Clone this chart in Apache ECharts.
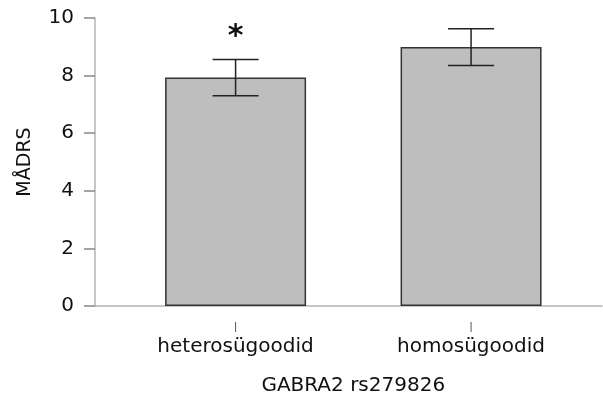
<!DOCTYPE html>
<html>
<head>
<meta charset="utf-8">
<script src="https://cdn.jsdelivr.net/npm/echarts@6/dist/echarts.min.js"></script>
<style>
  html, body { margin: 0; padding: 0; background: #fff; }
  #chart { width: 603px; height: 401px; }
</style>
</head>
<body>
<div id="chart"></div>
<script>
// andmed
const categories = ['heteros\u00fcgoodid', 'homos\u00fcgoodid']
const positions = [1, 2]
const means = [7.93, 8.99]
const errLow = [7.30, 8.35]
const errHigh = [8.56, 9.63]
const signif = ['*', '']
const yTicks = [0, 2, 4, 6, 8, 10]

const FONT = 'DejaVu Sans'
const chart = echarts.init(document.getElementById('chart'))

const xMin = 0.403
const xMax = 2.556

chart.setOption({
  animation: false,
  grid: [
    { left: 95, right: 1, top: 18, bottom: 95 },
    // kategooriate telg (eraldi, et sildid oleksid tulpade keskel)
    { left: 117.75, right: 14.25, top: 18, bottom: 95 }
  ],
  xAxis: [
    {
      type: 'value',
      gridIndex: 0,
      min: xMin,
      max: xMax,
      axisLine: { show: true, lineStyle: { color: '#b4b4b4', width: 1.5 } },
      axisTick: { show: false },
      axisLabel: { show: false },
      splitLine: { show: false }
    },
    {
      type: 'category',
      gridIndex: 1,
      data: categories,
      position: 'bottom',
      offset: 16,
      axisLine: { show: false },
      axisTick: { show: false },
      axisLabel: { show: true, margin: 32, fontFamily: FONT, fontSize: 20, color: '#111' },
      splitLine: { show: false },
      name: 'GABRA2 rs279826',
      nameLocation: 'middle',
      nameGap: 71,
      nameTextStyle: { fontFamily: FONT, fontSize: 20, color: '#111' }
    }
  ],
  yAxis: [
    {
      type: 'value',
      gridIndex: 0,
      min: 0,
      max: 10,
      interval: 2,
      axisLine: { show: true, lineStyle: { color: '#b4b4b4', width: 1.5 } },
      axisTick: { show: true, length: 11, lineStyle: { color: '#888', width: 1.5 } },
      axisLabel: { fontFamily: FONT, fontSize: 20, color: '#111', margin: 21,
        formatter: v => yTicks.includes(v) ? String(v) : '' },
      splitLine: { show: false },
      name: 'M\u00c5DRS',
      nameLocation: 'middle',
      nameGap: 60,
      nameRotate: 90,
      nameTextStyle: { fontFamily: FONT, fontSize: 19, color: '#111' }
    },
    { type: 'value', gridIndex: 1, min: 0, max: 10, show: false }
  ],
  series: [
    {
      type: 'bar',
      xAxisIndex: 0,
      yAxisIndex: 0,
      barWidth: 141,
      data: positions.map((p, i) => [p, means[i]]),
      itemStyle: { color: '#bebebe', borderColor: '#333', borderWidth: 1.5 }
    },
    {
      // kategooriate märgid (eraldatud teljest)
      type: 'custom',
      xAxisIndex: 0,
      yAxisIndex: 0,
      clip: false,
      silent: true,
      data: positions.map(p => [p, 0]),
      renderItem: (params, api) => {
        const pt = api.coord([api.value(0), 0])
        return {
          type: 'line',
          shape: { x1: pt[0], y1: pt[1] + 16, x2: pt[0], y2: pt[1] + 26 },
          style: { stroke: '#555', lineWidth: 1 }
        }
      }
    },
    {
      type: 'custom',
      xAxisIndex: 0,
      yAxisIndex: 0,
      data: positions.map((p, i) => [p, errLow[i], errHigh[i]]),
      renderItem: (params, api) => {
        const x = api.value(0)
        const lo = api.coord([x, api.value(1)])
        const hi = api.coord([x, api.value(2)])
        const half = 23
        const style = { stroke: '#222', lineWidth: 1.5 }
        return {
          type: 'group',
          children: [
            { type: 'line', shape: { x1: lo[0], y1: lo[1], x2: hi[0], y2: hi[1] }, style },
            { type: 'line', shape: { x1: lo[0] - half, y1: lo[1], x2: lo[0] + half, y2: lo[1] }, style },
            { type: 'line', shape: { x1: hi[0] - half, y1: hi[1], x2: hi[0] + half, y2: hi[1] }, style }
          ]
        }
      },
      z: 5
    },
    {
      type: 'custom',
      xAxisIndex: 0,
      yAxisIndex: 0,
      clip: false,
      data: positions.map((p, i) => [p, errHigh[i], i]),
      renderItem: (params, api) => {
        const pt = api.coord([api.value(0), api.value(1)])
        const label = signif[api.value(2)]
        if (!label) return null
        return {
          type: 'text',
          x: pt[0],
          y: pt[1] - 22,
          style: { text: label, fontFamily: FONT, fontSize: 30, fontWeight: 'bold', fill: '#111', align: 'center', verticalAlign: 'middle' }
        }
      },
      z: 6
    }
  ]
})
</script>
</body>
</html>
